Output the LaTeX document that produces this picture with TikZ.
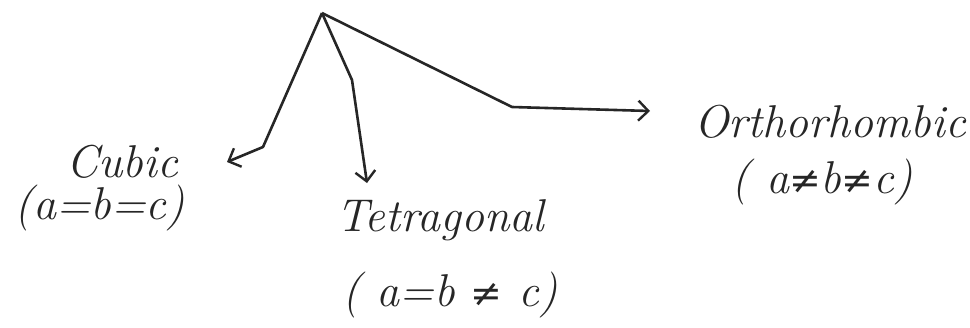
\documentclass[tikz,border=0pt]{standalone}
\usepackage{fontspec}
\newfontfamily\symfont{DejaVu Serif}
\usetikzlibrary{arrows.meta}
\newcommand{\myneq}{{\symfont\upshape\fontsize{38}{40}\selectfont ≠}}
\begin{document}
\begin{tikzpicture}[x=1pt,y=-1pt,
  lbl/.style={font=\fontsize{46}{50}\selectfont\itshape, inner sep=0pt, text=black!85},
  conn/.style={line width=2.6pt, black!85, line join=round, -{Straight Barb[length=10pt,width=20pt,line width=2.4pt]}}]
\useasboundingbox (0,0) rectangle (970,327);
\coordinate (top) at (322,13);
\node[lbl] (cubic) at (122,162) {Cubic};
\node[lbl] (cubiceq) at (100,208) {(a=b=c)};
\node[lbl] (tetra) at (440,220) {Tetragonal};
\node[lbl] (tetraeq) at (450,295) {( a=b \myneq{} c)};
\node[lbl] (ortho) at (830,122) {Orthorhombic};
\node[lbl] (orthoeq) at (822,182) {( a\myneq{}b\myneq{}c)};
\coordinate (b1) at (263,147);
\coordinate (b2) at (352,80);
\coordinate (b3) at (512,107);
\coordinate (t1) at (227,162);
\coordinate (t2) at (367,183);
\coordinate (t3) at (650,111);
\draw[conn] (top) -- (b1) -- (t1);
\draw[conn] (top) -- (b2) -- (t2);
\draw[conn] (top) -- (b3) -- (t3);
\end{tikzpicture}
\end{document}
